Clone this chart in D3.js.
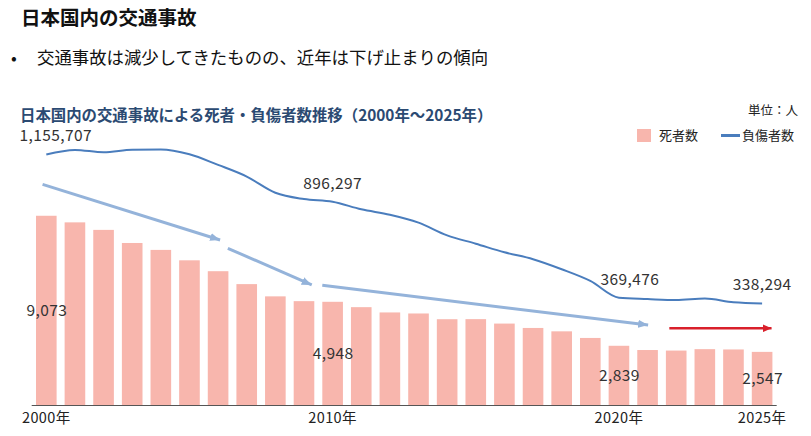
<!DOCTYPE html>
<html><head><meta charset="utf-8">
<script src="https://cdn.jsdelivr.net/npm/d3@7"></script>
<style>
body{margin:0;background:#fff;}
svg{display:block;font-family:"Noto Sans CJK JP","Noto Sans",sans-serif;}
</style></head>
<body><svg id="c" width="811" height="436"></svg>
<script>
const years = d3.range(2000, 2026);
const deaths = [9073,8757,8396,7768,7436,6937,6415,5796,5209,4979,4948,4691,4438,4388,4113,4117,3904,3694,3532,3215,2839,2636,2610,2678,2663,2547];
const injured = [1155707,1181039,1168029,1181681,1183617,1157113,1098564,1034652,945703,911215,896297,854613,825392,781492,711374,666023,618853,580850,525846,461775,369476,362131,356601,365027,344395,338294];
const tickYears = [2000, 2010, 2020, 2025];
const deathLabels = [2000, 2010, 2020, 2025];
const injuredLabels = [2000, 2010, 2020, 2025];
// trend arrows in data terms: [year, death-scale value]
const trendArrows = [
  {from:[1999.87,10580], to:[2006.07,7910], kind:"blue"},
  {from:[2006.34,7515], to:[2009.27,5754], kind:"blue"},
  {from:[2009.64,5740], to:[2021.02,3836], kind:"blue"},
  {from:[2021.76,3678], to:[2025.33,3678], kind:"red"}
];

const svg = d3.select("#c");
const fmt = d3.format(",");

const x = d3.scaleBand().domain(years).range([31.7, 776.7]).paddingInner(0.28).paddingOuter(0.15);
const yBar = d3.scaleLinear().domain([0, 14000]).range([405, 113]);
const yLine = d3.scaleLinear().domain([0, 1400000]).range([365, 110]);
const xc = yr => x(2000) + x.bandwidth()/2 + (yr - 2000) * x.step();

// titles
svg.append("text").attr("x", 21).attr("y", 25).attr("font-size", 19.5).attr("font-weight", "bold").attr("fill", "#111").text("日本国内の交通事故");
svg.append("text").attr("x", 11).attr("y", 64).attr("font-size", 17).attr("fill", "#111").text("•");
svg.append("text").attr("x", 37).attr("y", 64).attr("font-size", 17.4).attr("fill", "#111").text("交通事故は減少してきたものの、近年は下げ止まりの傾向");
svg.append("text").attr("x", 20).attr("y", 120.5).attr("font-size", 15.4).attr("font-weight", "bold").attr("fill", "#2b4a72").text("日本国内の交通事故による死者・負傷者数推移（2000年～2025年）");
svg.append("text").attr("x", 798).attr("y", 115).attr("text-anchor", "end").attr("font-size", 12.5).attr("fill", "#222").text("単位：人");

// legend
svg.append("rect").attr("x", 637).attr("y", 129).attr("width", 14).attr("height", 13).attr("fill", "#f8b6ad");
svg.append("text").attr("x", 659).attr("y", 140).attr("font-size", 13).attr("fill", "#222").text("死者数");
svg.append("line").attr("x1", 721).attr("x2", 740).attr("y1", 135.5).attr("y2", 135.5).attr("stroke", "#4a7dbd").attr("stroke-width", 3);
svg.append("text").attr("x", 742).attr("y", 140).attr("font-size", 13).attr("fill", "#222").text("負傷者数");

// bars
svg.append("g").selectAll("rect").data(years).join("rect")
  .attr("x", d => x(d)).attr("width", x.bandwidth())
  .attr("y", (d,i) => yBar(deaths[i])).attr("height", (d,i) => yBar(0) - yBar(deaths[i]))
  .attr("fill", "#f8b6ad");

// axis
const ax = svg.append("g").attr("transform", "translate(0,405)")
  .call(d3.axisBottom(x).tickValues(tickYears).tickSize(0).tickFormat(d => d + "年"));
ax.select(".domain").attr("stroke", "#555").attr("d", "M31.7,0.5H776.7");
ax.selectAll("text").attr("font-size", 14.5).attr("fill", "#222").attr("dy", "1.0em")
  .attr("letter-spacing", "0.4px")
  .attr("font-family", "'Noto Sans CJK JP',sans-serif");

// line
svg.append("path").datum(injured)
  .attr("d", d3.line().x((d,i) => x(years[i]) + x.bandwidth()/2).y(d => yLine(d)).curve(d3.curveMonotoneX))
  .attr("fill", "none").attr("stroke", "#4a7dbd").attr("stroke-width", 2);

// arrows
const defs = svg.append("defs");
[["blue","#94b3da",10,8],["red","#d9202b",9,8]].forEach(([k,c,l,w]) => {
  defs.append("marker").attr("id", "ah-" + k).attr("markerUnits", "userSpaceOnUse")
    .attr("viewBox", `0 0 ${l} ${w}`).attr("refX", l).attr("refY", w/2)
    .attr("markerWidth", l).attr("markerHeight", w).attr("orient", "auto")
    .append("path").attr("d", `M0,0L${l},${w/2}L0,${w}Z`).attr("fill", c);
});
svg.append("g").selectAll("line").data(trendArrows).join("line")
  .attr("x1", d => xc(d.from[0])).attr("y1", d => yBar(d.from[1]))
  .attr("x2", d => xc(d.to[0])).attr("y2", d => yBar(d.to[1]))
  .attr("stroke", d => d.kind === "red" ? "#d9202b" : "#94b3da")
  .attr("stroke-width", d => d.kind === "red" ? 2.6 : 3)
  .attr("marker-end", d => `url(#ah-${d.kind})`);

// data labels
const lab = svg.append("g").attr("font-size", 15.5).attr("letter-spacing", "0.4px").attr("fill", "#333").attr("text-anchor", "middle");
deathLabels.forEach(yr => {
  const i = years.indexOf(yr);
  lab.append("text").attr("x", xc(yr) + 0.5).attr("y", (yBar(deaths[i]) + yBar(0))/2 + 5.5).text(fmt(deaths[i]));
});
injuredLabels.forEach(yr => {
  const i = years.indexOf(yr);
  const dx = yr === 2000 ? 9.5 : (yr === 2020 ? 11 : 0);
  lab.append("text").attr("x", xc(yr) + dx).attr("y", yLine(injured[i]) - 13).text(fmt(injured[i]));
});
</script></body></html>
